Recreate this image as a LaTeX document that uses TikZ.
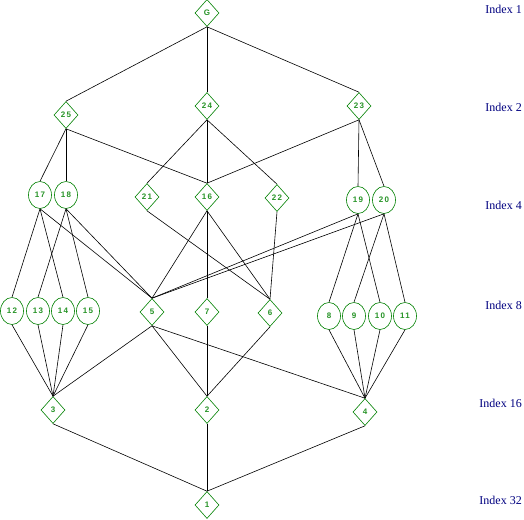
\documentclass[tikz,border=0pt]{standalone}
\usepackage{fontspec}
\usetikzlibrary{shapes.geometric}
\newfontfamily\nodefont[LetterSpace=18]{Liberation Sans}
\newfontfamily\idxfont{Liberation Serif}
\definecolor{nodegreen}{RGB}{0,128,0}
\definecolor{idxblue}{RGB}{0,0,128}
\tikzset{
  dia/.style={diamond, draw=nodegreen, line width=0.6pt, minimum width=24pt, minimum height=27pt, inner sep=0pt, text=nodegreen!85!white, font=\nodefont\bfseries\fontsize{8}{8}\selectfont},
  ell/.style={ellipse, draw=nodegreen, line width=0.6pt, minimum width=23pt, minimum height=27pt, inner sep=0pt, text=nodegreen!85!white, font=\nodefont\bfseries\fontsize{8}{8}\selectfont},
  idx/.style={anchor=east, text=idxblue, font=\idxfont\fontsize{12}{12}\selectfont, inner sep=0pt},
  edge/.style={draw=black, line width=0.6pt}
}
\begin{document}
\begin{tikzpicture}[x=1pt,y=-1pt]
\useasboundingbox (0,0) rectangle (524,519);
% nodes
\node[dia] (G) at (207,13) {G};
\node[dia] (n25) at (66,115) {25};
\node[dia] (n24) at (207,106) {24};
\node[dia] (n23) at (359,106) {23};
\node[ell] (n17) at (40,195) {17};
\node[ell] (n18) at (66,195) {18};
\node[dia] (n21) at (147,197) {21};
\node[dia] (n16) at (207,197) {16};
\node[dia] (n22) at (277,198) {22};
\node[ell] (n19) at (358,200) {19};
\node[ell] (n20) at (384,200) {20};
\node[ell] (n12) at (12,311) {12};
\node[ell] (n13) at (38,311) {13};
\node[ell] (n14) at (63,311) {14};
\node[ell] (n15) at (88,311) {15};
\node[dia] (n5) at (152,312) {5};
\node[dia] (n7) at (207,312) {7};
\node[dia] (n6) at (270,313) {6};
\node[ell] (n8) at (329,316) {8};
\node[ell] (n9) at (354,316) {9};
\node[ell] (n10) at (380,316) {10};
\node[ell] (n11) at (405,316) {11};
\node[dia] (n3) at (53,410) {3};
\node[dia] (n2) at (207,410) {2};
\node[dia] (n4) at (365,412) {4};
\node[dia] (n1) at (207,505) {1};
% index labels
\node[idx] (i1) at (522,9) {Index 1};
\node[idx] (i2) at (522,107) {Index 2};
\node[idx] (i4) at (522,205) {Index 4};
\node[idx] (i8) at (522,305) {Index 8};
\node[idx] (i16) at (522,403) {Index 16};
\node[idx] (i32) at (522,500) {Index 32};
% edges
\foreach \a/\b in {G/n25, G/n24, G/n23,
  n25/n17, n25/n18, n25/n16,
  n24/n21, n24/n16, n24/n22,
  n23/n16, n23/n19, n23/n20,
  n17/n12, n17/n14, n17/n5,
  n18/n13, n18/n15, n18/n5,
  n21/n6, n16/n5, n16/n7, n16/n6, n22/n6,
  n19/n5, n20/n5, n19/n8, n19/n10, n20/n9, n20/n11,
  n12/n3, n13/n3, n14/n3, n15/n3, n5/n3,
  n5/n2, n7/n2, n6/n2, n5/n4,
  n8/n4, n9/n4, n10/n4, n11/n4,
  n3/n1, n2/n1, n4/n1}
  \draw[edge] (\a.south) -- (\b.north);
\end{tikzpicture}
\end{document}
